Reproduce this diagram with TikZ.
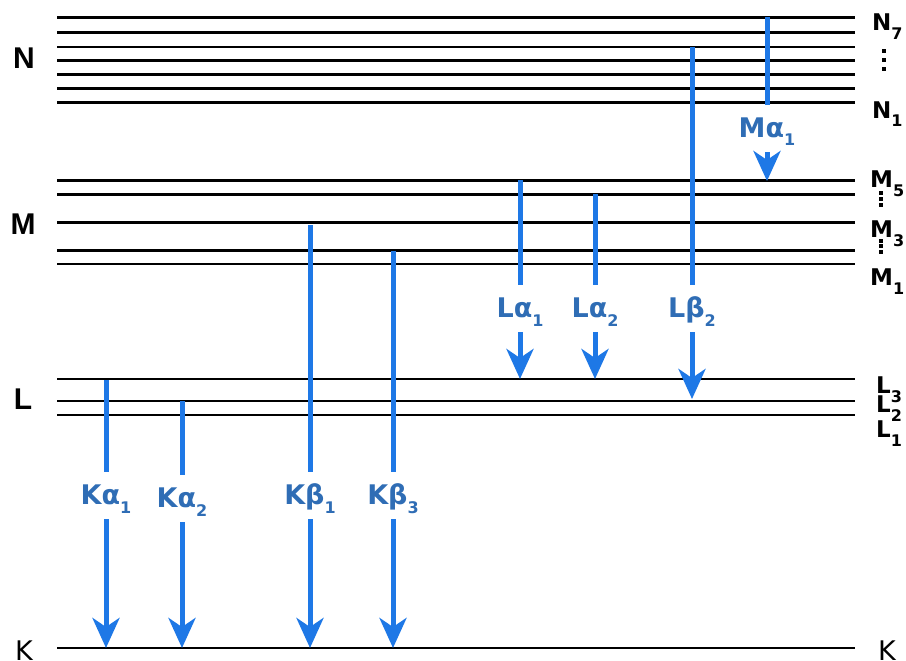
\documentclass[tikz,border=0pt]{standalone}
\usepackage{fontspec}
\setmainfont{DejaVu Sans}
\newfontfamily\shellfont{Liberation Sans}
\usetikzlibrary{arrows.meta}
\definecolor{arrowblue}{RGB}{30,120,230}
\definecolor{textblue}{RGB}{47,109,181}
\newcommand\lsub[1]{\raisebox{-9pt}{\fontsize{16}{16}\selectfont #1}}
\begin{document}
\begin{tikzpicture}[x=1pt,y=-1pt,
  level/.style={line width=2.8pt, black},
  trans/.style={line width=5pt, arrowblue},
  tip/.style={-{Stealth[length=30pt,width=27pt,inset=9pt]}},
  tlabel/.style={anchor=base, text=textblue, font=\fontsize{27}{27}\selectfont\bfseries, inner sep=0pt},
  rlabel/.style={anchor=base west, font=\fontsize{23}{23}\selectfont\bfseries, inner sep=0pt},
  shell/.style={font=\shellfont\fontsize{30}{30}\selectfont\bfseries, inner sep=0pt},
  kshell/.style={anchor=base, font=\fontsize{27}{27}\selectfont, inner sep=0pt},
  vdot/.style={fill=black, rectangle, inner sep=0pt, minimum size=3.4pt}]
\useasboundingbox (0,0) rectangle (906,661);
% energy levels
\foreach \y in {17.5,32.5,47,60.5,74.5,88.5,102.5,180.5,194.5,222.5,250.5,264,379,401,415,648}
  \draw[level] (57,\y) -- (855,\y);
% shell names (left)
\node[shell] (sN) at (24,58) {N};
\node[shell] (sM) at (23,224) {M};
\node[shell] (sL) at (23,399) {L};
\node[kshell] (sK) at (24,660) {K};
% sublevel names (right)
\node[rlabel] (n7) at (872,31) {N\lsub{7}};
\node[rlabel] (n1) at (872,118) {N\lsub{1}};
\node[rlabel] (m5) at (870,187) {M\lsub{5}};
\node[rlabel] (m3) at (870,237) {M\lsub{3}};
\node[rlabel] (m1) at (870,285) {M\lsub{1}};
\node[rlabel] (l3) at (876,393) {L\lsub{3}};
\node[rlabel] (l2) at (876,412) {L\lsub{2}};
\node[rlabel] (l1) at (876,437) {L\lsub{1}};
\node[kshell] (kr) at (887,660) {K};
% vertical dots
\foreach \y [count=\i] in {51,60,69} \node[vdot] (dn\i) at (884,\y) {};
\foreach \y [count=\i] in {193,199,205} \node[vdot] (dma\i) at (881,\y) {};
\foreach \y [count=\i] in {241,246,252} \node[vdot] (dmb\i) at (881,\y) {};
% transition start / end points
\coordinate (ka1s) at (106,380); \coordinate (ka1e) at (106,648);
\coordinate (ka2s) at (182,401); \coordinate (ka2e) at (182,648);
\coordinate (kb1s) at (310,225); \coordinate (kb1e) at (310,648);
\coordinate (kb3s) at (393,251); \coordinate (kb3e) at (393,648);
\coordinate (la1s) at (520,180); \coordinate (la1e) at (520,379);
\coordinate (la2s) at (595,194); \coordinate (la2e) at (595,379);
\coordinate (lb2s) at (692,47);  \coordinate (lb2e) at (692,399);
\coordinate (ma1s) at (767,17);  \coordinate (ma1e) at (767,181);
% transition labels
\node[tlabel] (ka1) at (106,504) {Kα\lsub{1}};
\node[tlabel] (ka2) at (182,507) {Kα\lsub{2}};
\node[tlabel] (kb1) at (310,504) {Kβ\lsub{1}};
\node[tlabel] (kb3) at (393,504) {Kβ\lsub{3}};
\node[tlabel] (la1) at (520,317) {Lα\lsub{1}};
\node[tlabel] (la2) at (595,317) {Lα\lsub{2}};
\node[tlabel] (lb2) at (692,317) {Lβ\lsub{2}};
\node[tlabel] (ma1) at (767,137) {Mα\lsub{1}};
% transitions
\foreach \t in {ka1,ka2,kb1,kb3,la1,la2,lb2,ma1}{
  \draw[trans] (\t s) -- ([yshift=32pt]\t.base);
  \draw[trans,tip] ([yshift=-15pt]\t.base) -- (\t e);
}
\end{tikzpicture}
\end{document}
